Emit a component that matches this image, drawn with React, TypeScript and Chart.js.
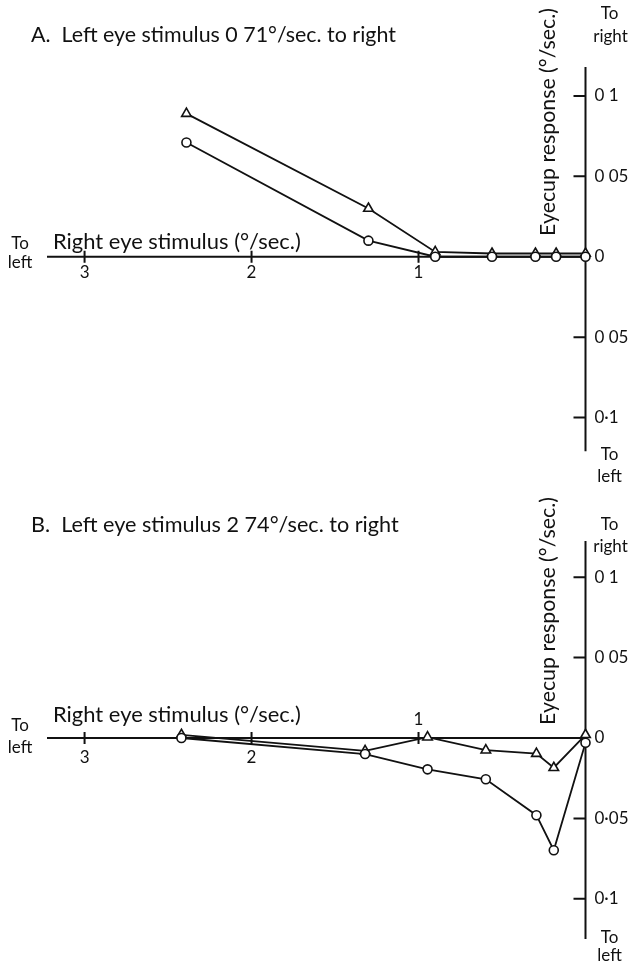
import React, { useEffect, useRef } from 'react';
import { Chart, registerables } from 'chart.js';

Chart.register(...registerables);

// ---------- data ----------
const xTickValues = [3, 2, 1];
const xTickLabels = ['3', '2', '1'];
const yTickValues = [0.1, 0.05, 0, -0.05, -0.1];
const yTickLabelsA = ['0 1', '0 05', '0', '0 05', '0·1'];
const yTickLabelsB = ['0 1', '0 05', '0', '0·05', '0·1'];
const xAxisTitle = 'Right eye stimulus (°/sec.)';
const yAxisTitle = 'Eyecup response (°/sec.)';

const titleA = 'A.  Left eye stimulus 0 71°/sec. to right';
const stimulusA = [2.39, 1.3, 0.9, 0.56, 0.3, 0.176, 0];
const trianglesA = [0.089, 0.03, 0.003, 0.002, 0.002, 0.002, 0.002];
const circlesA = [0.071, 0.01, 0, 0, 0, 0, 0];

const titleB = 'B.  Left eye stimulus 2 74°/sec. to right';
const stimulusB = [2.42, 1.32, 0.946, 0.597, 0.294, 0.19, 0];
const trianglesB = [0.002, -0.008, 0.0005, -0.0076, -0.0097, -0.0185, 0.002];
const circlesB = [0, -0.01, -0.0195, -0.0257, -0.048, -0.0698, -0.003];

// ---------- style ----------
const INK = '#111';
const FONT_FAMILY = "Lato, 'Open Sans', 'DejaVu Sans', sans-serif";
const BASE_SIZE = 17;

type PanelCfg = {
  key: string;
  top: number;
  height: number;
  padding: { left: number; right: number; top: number; bottom: number };
  yMin: number;
  yMax: number;
  title: string;
  titleY: number;
  titleWidth: number;
  toRightY: [number, number];
  toLeftBottomY: [number, number];
  yTitleCenterY: number;
  xTitleDy: number;
  toLeftDy: [number, number];
  xTickLabelDy: number[];
  stimulus: number[];
  triangles: number[];
  circles: number[];
  yTickLabels: string[];
};

const panels: PanelCfg[] = [
  {
    key: 'A',
    top: 0,
    height: 530,
    padding: { left: 47, right: 55.5, top: 67, bottom: 78.7 },
    yMin: -0.121,
    yMax: 0.118,
    title: titleA,
    titleY: 35,
    titleWidth: 365,
    toRightY: [14, 37],
    toLeftBottomY: [455, 477],
    yTitleCenterY: 122,
    xTitleDy: -15,
    toLeftDy: [-13, 6],
    xTickLabelDy: [16, 16, 16],
    stimulus: stimulusA,
    triangles: trianglesA,
    circles: circlesA,
    yTickLabels: yTickLabelsA,
  },
  {
    key: 'B',
    top: 481,
    height: 481,
    padding: { left: 47, right: 55.5, top: 60, bottom: 23 },
    yMin: -0.125,
    yMax: 0.1225,
    title: titleB,
    titleY: 44,
    titleWidth: 368,
    toRightY: [44, 66],
    toLeftBottomY: [457, 475],
    yTitleCenterY: 130,
    xTitleDy: -23,
    toLeftDy: [-12, 10],
    xTickLabelDy: [20, 20, -18],
    stimulus: stimulusB,
    triangles: trianglesB,
    circles: circlesB,
    yTickLabels: yTickLabelsB,
  },
];

function fitFont(ctx: CanvasRenderingContext2D, text: string, width: number) {
  ctx.font = `${BASE_SIZE}px ${FONT_FAMILY}`;
  const w = ctx.measureText(text).width;
  const size = (BASE_SIZE * width) / w;
  ctx.font = `${size}px ${FONT_FAMILY}`;
}

function makePlugin(cfg: PanelCfg) {
  return {
    id: 'paperAxes' + cfg.key,
    beforeDatasetsDraw(chart: any) {
      const { ctx } = chart;
      const x = chart.scales.x;
      const y = chart.scales.y;
      const x0 = x.getPixelForValue(0);
      const y0 = y.getPixelForValue(0);
      ctx.save();
      ctx.strokeStyle = INK;
      ctx.lineWidth = 2;
      ctx.beginPath();
      ctx.moveTo(x.getPixelForValue(x.max), y0);
      ctx.lineTo(x0, y0);
      ctx.moveTo(x0, y.getPixelForValue(y.max));
      ctx.lineTo(x0, y.getPixelForValue(y.min));
      xTickValues.forEach((v) => {
        const px = x.getPixelForValue(v);
        ctx.moveTo(px, y0 - 6);
        ctx.lineTo(px, y0 + 6);
      });
      yTickValues.forEach((v) => {
        if (v === 0) return;
        const py = y.getPixelForValue(v);
        ctx.moveTo(x0 - 12, py);
        ctx.lineTo(x0, py);
      });
      ctx.stroke();
      ctx.restore();
    },
    afterDatasetsDraw(chart: any) {
      const { ctx } = chart;
      const x = chart.scales.x;
      const y = chart.scales.y;
      const x0 = x.getPixelForValue(0);
      const y0 = y.getPixelForValue(0);
      ctx.save();
      ctx.fillStyle = INK;
      ctx.textBaseline = 'middle';

      // title
      ctx.textAlign = 'left';
      fitFont(ctx, cfg.title, cfg.titleWidth);
      ctx.fillText(cfg.title, 31, cfg.titleY);

      ctx.font = `${BASE_SIZE}px ${FONT_FAMILY}`;
      // y tick labels
      ctx.textAlign = 'left';
      yTickValues.forEach((v, i) => {
        ctx.fillText(cfg.yTickLabels[i], x0 + 9, y.getPixelForValue(v));
      });
      // x tick labels
      ctx.textAlign = 'center';
      xTickValues.forEach((v, i) => {
        ctx.fillText(xTickLabels[i], x.getPixelForValue(v), y0 + cfg.xTickLabelDy[i]);
      });
      // direction labels
      ctx.fillText('To', x0 + 24, cfg.toRightY[0]);
      ctx.fillText('right', x0 + 25, cfg.toRightY[1]);
      ctx.fillText('To', x0 + 24, cfg.toLeftBottomY[0]);
      ctx.fillText('left', x0 + 24, cfg.toLeftBottomY[1]);
      ctx.fillText('To', 20, y0 + cfg.toLeftDy[0]);
      ctx.fillText('left', 20, y0 + cfg.toLeftDy[1]);

      // x axis title
      ctx.textAlign = 'left';
      fitFont(ctx, xAxisTitle, 248);
      ctx.fillText(xAxisTitle, 53, y0 + cfg.xTitleDy);

      // y axis title (rotated)
      ctx.save();
      ctx.translate(x0 - 37, cfg.yTitleCenterY);
      ctx.rotate(-Math.PI / 2);
      ctx.textAlign = 'center';
      fitFont(ctx, yAxisTitle, 228);
      ctx.fillText(yAxisTitle, 0, 0);
      ctx.restore();

      ctx.restore();
    },
  };
}

function Panel({ cfg }: { cfg: PanelCfg }) {
  const ref = useRef<HTMLCanvasElement>(null);
  useEffect(() => {
    const canvas = ref.current!;
    const common = {
      borderColor: INK,
      borderWidth: 1.8,
      pointBackgroundColor: '#fff',
      pointBorderColor: INK,
      pointBorderWidth: 1.6,
      fill: false,
      tension: 0,
      clip: false as any,
    };
    const chart = new Chart(canvas, {
      type: 'line',
      data: {
        datasets: [
          {
            ...common,
            label: 'circles',
            data: cfg.stimulus.map((s, i) => ({ x: s, y: cfg.circles[i] })),
            pointStyle: 'circle',
            pointRadius: 4.5,
          },
          {
            ...common,
            label: 'triangles',
            data: cfg.stimulus.map((s, i) => ({ x: s, y: cfg.triangles[i] })),
            pointStyle: 'triangle',
            pointRadius: 5.5,
          },
        ],
      },
      options: {
        responsive: false,
        animation: false,
        devicePixelRatio: 1,
        layout: { padding: cfg.padding },
        plugins: { legend: { display: false }, tooltip: { enabled: false } },
        events: [],
        scales: {
          x: { type: 'linear', reverse: true, min: 0, max: 3.225, display: false },
          y: { type: 'linear', min: cfg.yMin, max: cfg.yMax, display: false },
        },
      },
      plugins: [makePlugin(cfg)],
    });
    return () => chart.destroy();
  }, [cfg]);
  return (
    <canvas
      ref={ref}
      width={641}
      height={cfg.height}
      style={{ position: 'absolute', left: 0, top: cfg.top, width: 641, height: cfg.height }}
    />
  );
}

export default function App() {
  useEffect(() => {
    document.body.style.margin = '0';
    document.body.style.background = '#fff';
  }, []);
  return (
    <div style={{ position: 'relative', width: 641, height: 962, background: '#fff', overflow: 'hidden' }}>
      {panels.map((p) => (
        <Panel key={p.key} cfg={p} />
      ))}
    </div>
  );
}
